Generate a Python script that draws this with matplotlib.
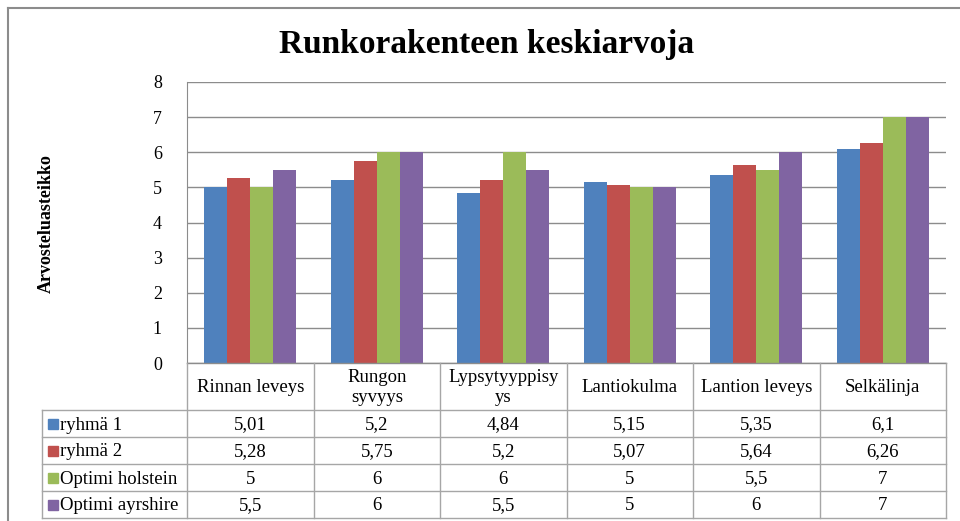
import numpy as np
import matplotlib
matplotlib.use("Agg")
import matplotlib.pyplot as plt
from matplotlib.patches import Rectangle

plt.rcParams['font.family'] = ['Liberation Serif', 'DejaVu Serif']

categories = ["Rinnan leveys", "Rungon\nsyvyys", "Lypsytyyppisy\nys", "Lantiokulma", "Lantion leveys", "Selkälinja"]
series_names = ["ryhmä 1", "ryhmä 2", "Optimi holstein", "Optimi ayrshire"]
ryhma1 = [5.01, 5.2, 4.84, 5.15, 5.35, 6.1]
ryhma2 = [5.28, 5.75, 5.2, 5.07, 5.64, 6.26]
holstein = [5, 6, 6, 5, 5.5, 7]
ayrshire = [5.5, 6, 5.5, 5, 6, 7]
colors = ["#4F81BD", "#C0504D", "#9BBB59", "#8064A2"]
series = [ryhma1, ryhma2, holstein, ayrshire]

W, H = 960, 521
fig = plt.figure(figsize=(W / 100, H / 100), dpi=100)

# plot area in pixels
px_l, px_r, px_t, px_b = 187, 946, 82, 363
ax = fig.add_axes([px_l / W, 1 - px_b / H, (px_r - px_l) / W, (px_b - px_t) / H])

n = len(categories)
x = np.arange(n)
bw = 0.182
for i, (vals, c) in enumerate(zip(series, colors)):
    ax.bar(x + (i - 1.5) * bw, vals, bw, color=c, zorder=3, label=series_names[i])

ax.set_xlim(-0.5, n - 0.5)
ax.set_ylim(0, 8)
ax.set_yticks(range(0, 9))
ax.set_xticks([])
ax.grid(axis='y', color='#8c8c8c', linewidth=1.0, zorder=0)
for s in ['top', 'right', 'bottom']:
    ax.spines[s].set_visible(False)
ax.spines['left'].set_color('#8c8c8c')
ax.tick_params(axis='y', length=0, pad=18, labelsize=13)

fig.text(46 / W, 1 - 224 / H, "Arvosteluasteikko", rotation=90, ha='center', va='center',
         fontsize=13, fontweight='bold')
fig.text(487 / W, 1 - 45 / H, "Runkorakenteen keskiarvoja", ha='center', va='center',
         fontsize=24, fontweight='bold')

# overlay in pixel coordinates for the data table and frame
ov = fig.add_axes([0, 0, 1, 1], facecolor='none')
ov.set_xlim(0, W)
ov.set_ylim(H, 0)
ov.axis('off')

lc = '#a6a6a6'
# outer chart frame
ov.plot([8, W], [8, 8], color='#8c8c8c', lw=1.5)
ov.plot([8, 8], [8, H], color='#8c8c8c', lw=1.5)

col_w = (px_r - px_l) / n
head_b = 410
row_h = 27
tab_l = 42
rows_b = head_b + row_h * len(series_names)

# header row
ov.plot([px_l, px_r], [px_b, px_b], color='#8c8c8c', lw=1)
for k in range(n + 1):
    ov.plot([px_l + k * col_w] * 2, [px_b, rows_b], color=lc, lw=1)
for j in range(len(series_names) + 1):
    ov.plot([tab_l, px_r], [head_b + j * row_h] * 2, color=lc, lw=1)
ov.plot([tab_l, tab_l], [head_b, rows_b], color=lc, lw=1)

for k, cat in enumerate(categories):
    ov.text(px_l + (k + 0.5) * col_w, (px_b + head_b) / 2 + 1, cat, ha='center', va='center',
            fontsize=13.5, linespacing=1.2)

for j, name in enumerate(series_names):
    yc = head_b + (j + 0.5) * row_h
    ov.add_patch(Rectangle((48, yc - 5), 10, 10, color=colors[j]))
    ov.text(60, yc + 6, name, ha='left', va='baseline', fontsize=13.5)
    for k, v in enumerate(series[j]):
        ov.text(px_l + (k + 0.5) * col_w, yc + 6, f"{v:g}".replace('.', ','), ha='center',
                va='baseline', fontsize=13.5)

fig.savefig("out.png", dpi=100)
